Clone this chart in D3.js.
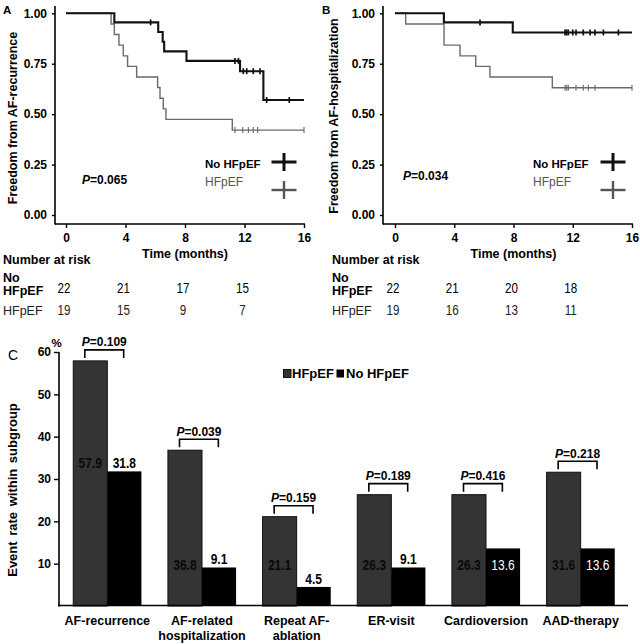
<!DOCTYPE html>
<html><head><meta charset="utf-8">
<script src="https://cdn.jsdelivr.net/npm/d3@7"></script>
<style>
html,body{margin:0;padding:0;background:#fff;}
svg{display:block;}
</style></head>
<body>
<svg id="chart" width="640" height="644"></svg>
<script>
// ---------------- DATA ----------------
const kmTimeTicks = [0, 4, 8, 12, 16];
const survTicks = [0, 0.25, 0.5, 0.75, 1];
const followEnd = 16;

// Panel A: freedom from AF-recurrence
const aNoDropT = [0, 3.25, 6.2, 6.5, 6.6, 8.1, 11.7, 13.27];
const aNoSurv  = [1, 0.955, 0.907, 0.859, 0.811, 0.764, 0.713, 0.57];
const aNoCens  = [5.69, 11.36, 11.59, 11.92, 12.15, 12.59, 13.04, 13.49, 15.01];
const aHfDropT = [0, 3.03, 3.25, 3.56, 3.85, 4.14, 4.75, 6.16, 6.32, 6.54, 6.72, 11.18];
const aHfSurv  = [1, 0.947, 0.895, 0.842, 0.789, 0.737, 0.684, 0.632, 0.579, 0.526, 0.474, 0.421];
const aHfCens  = [11.36, 11.88, 12.26, 12.59, 12.88, 16];

// Panel B: freedom from AF-hospitalization
const bNoDropT = [0, 3.3, 7.95];
const bNoSurv  = [1, 0.955, 0.905];
const bNoCens  = [5.74, 11.48, 11.59, 11.7, 12.0, 12.22, 12.71, 13.17, 13.5, 14.07, 15.08];
const bHfDropT = [0, 0.72, 3.31, 4.39, 5.45, 6.41, 10.62];
const bHfSurv  = [1, 0.947, 0.842, 0.789, 0.737, 0.684, 0.631];
const bHfCens  = [11.48, 11.59, 11.7, 12.22, 12.71, 13.05, 13.5, 16];

// Numbers at risk
const riskTimes = [0, 4, 8, 12];
const aRiskNo = [22, 21, 17, 15];
const aRiskHf = [19, 15, 9, 7];
const bRiskNo = [22, 21, 20, 18];
const bRiskHf = [19, 16, 13, 11];

const pA = "0.065";
const pB = "0.034";

// Panel C: event rates
const categories = ["AF-recurrence", "AF-related\nhospitalization", "Repeat AF-\nablation", "ER-visit", "Cardioversion", "AAD-therapy"];
const hfRates = [57.9, 36.8, 21.1, 26.3, 26.3, 31.6];
const noRates = [31.8, 9.1, 4.5, 9.1, 13.6, 13.6];
const pValues = ["0.109", "0.039", "0.159", "0.189", "0.416", "0.218"];
const rateTicks = [10, 20, 30, 40, 50, 60];
const seriesNames = ["HFpEF", "No HFpEF"];

// ---------------- DRAW ----------------
const FONT = "'Liberation Sans', Arial, Helvetica, sans-serif";
const svg = d3.select("#chart");

function txt(x, y, s, o = {}) {
  return svg.append("text").attr("x", x).attr("y", y)
    .attr("font-family", FONT)
    .attr("font-size", o.size || 12)
    .attr("font-weight", o.weight || "bold")
    .attr("fill", o.fill || "#000")
    .attr("text-anchor", o.anchor || "start")
    .text(s);
}
// condensed-looking text (horizontal squeeze)
function ntxt(x, y, s, o = {}) {
  return svg.append("text").attr("transform", `translate(${x},${y}) scale(0.8,1)`)
    .attr("font-family", FONT)
    .attr("font-size", o.size || 14)
    .attr("font-weight", o.weight || "normal")
    .attr("fill", o.fill || "#000")
    .attr("text-anchor", o.anchor || "middle")
    .text(s);
}
function pText(x, y, val, size, anchor) {
  const t = svg.append("text").attr("x", x).attr("y", y)
    .attr("font-family", FONT).attr("font-size", size).attr("font-weight", "bold")
    .attr("text-anchor", anchor || "start").attr("fill", "#000");
  t.append("tspan").attr("font-style", "italic").text("P");
  t.append("tspan").text("=" + val);
  return t;
}

const yKM = d3.scaleLinear([0, 1], [215, 13.3]);

function kmPanel(o) {
  const x = d3.scaleLinear([0, 16], o.xr);
  const g = svg.append("g");
  g.append("line").attr("x1", o.ax).attr("x2", o.ax).attr("y1", 6).attr("y2", 224.5)
    .attr("stroke", "#000").attr("stroke-width", 1.6);
  g.append("line").attr("x1", o.ax).attr("x2", x(16) + 1).attr("y1", 224).attr("y2", 224)
    .attr("stroke", "#000").attr("stroke-width", 1.6);
  const ya = g.append("g").attr("transform", `translate(${o.ax},0)`)
    .call(d3.axisLeft(yKM).tickValues(survTicks).tickFormat(d3.format(".2f")).tickSize(3).tickPadding(5));
  ya.select(".domain").remove();
  const xa = g.append("g").attr("transform", `translate(0,224)`)
    .call(d3.axisBottom(x).tickValues(kmTimeTicks).tickSize(4).tickPadding(5));
  xa.select(".domain").remove();
  [ya, xa].forEach(a => {
    a.selectAll("text").attr("font-family", FONT).attr("font-size", 12).attr("font-weight", "bold").attr("fill", "#000");
    a.selectAll("line").attr("stroke", "#000").attr("stroke-width", 1.4);
  });

  function curve(dropT, surv, cens, color, w) {
    const pts = dropT.map((t, i) => [t, surv[i]]);
    pts.push([followEnd, surv[surv.length - 1]]);
    g.append("path").attr("d", d3.line().x(d => x(d[0])).y(d => yKM(d[1])).curve(d3.curveStepAfter)(pts))
      .attr("fill", "none").attr("stroke", color).attr("stroke-width", w);
    cens.forEach(t => {
      let s = surv[0];
      dropT.forEach((dt, i) => { if (dt <= t) s = surv[i]; });
      g.append("line").attr("x1", x(t)).attr("x2", x(t)).attr("y1", yKM(s) - 3).attr("y2", yKM(s) + 3)
        .attr("stroke", color).attr("stroke-width", w * 0.8);
    });
  }
  curve(o.hfT, o.hfS, o.hfC, "#6a6a6a", 1.4);
  curve(o.noT, o.noS, o.noC, "#111", 2.1);

  txt(o.legX, 168, "No HFpEF", { size: 11.5 });
  txt(o.legX, 186, "HFpEF", { size: 12, weight: "normal", fill: "#555" });
  function cross(cx, cy, color, w) {
    g.append("line").attr("x1", cx - 12.5).attr("x2", cx + 12.5).attr("y1", cy).attr("y2", cy).attr("stroke", color).attr("stroke-width", w);
    g.append("line").attr("x1", cx).attr("x2", cx).attr("y1", cy - 9).attr("y2", cy + 9).attr("stroke", color).attr("stroke-width", w);
  }
  cross(o.crossX, 162, "#111", 3);
  cross(o.crossX, 190, "#555", 2.4);
  pText(o.pX, o.pY, o.p, 12);

  txt(o.letterX, 14, o.letter, { size: 11.5 });
  svg.append("text").attr("transform", `translate(${o.titleX},${o.titleY}) rotate(-90)`)
    .attr("text-anchor", "middle").attr("font-family", FONT).attr("font-size", 12.5).attr("font-weight", "bold")
    .text(o.title);
  txt((x(0) + x(16)) / 2, 258, "Time (months)", { size: 12.5, anchor: "middle" });

  txt(o.riskX, 264, "Number at risk", { size: 12.5 });
  txt(o.riskX, 282, "No", { size: 12.5 });
  txt(o.riskX, 295, "HFpEF", { size: 12.5 });
  txt(o.riskX, 315, "HFpEF", { size: 12.5, weight: "normal", fill: "#222" });
  riskTimes.forEach((t, i) => {
    ntxt(x(t) - 2, 292.5, o.rNo[i], { size: 14.5 });
    ntxt(x(t) - 2, 315, o.rHf[i], { size: 14.5, fill: "#222" });
  });
}

kmPanel({ xr: [66, 304], ax: 55, hfT: aHfDropT, hfS: aHfSurv, hfC: aHfCens, noT: aNoDropT, noS: aNoSurv, noC: aNoCens,
  legX: 205, crossX: 284, pX: 82, pY: 184, p: pA, letter: "A", letterX: 3, riskX: 3, titleX: 16.5, titleY: 118,
  title: "Freedom from AF-recurrence", rNo: aRiskNo, rHf: aRiskHf });
kmPanel({ xr: [395, 632], ax: 383, hfT: bHfDropT, hfS: bHfSurv, hfC: bHfCens, noT: bNoDropT, noS: bNoSurv, noC: bNoCens,
  legX: 533, crossX: 613, pX: 403, pY: 180, p: pB, letter: "B", letterX: 322, riskX: 332, titleX: 337.5, titleY: 116,
  title: "Freedom from AF-hospitalization", rNo: bRiskNo, rHf: bRiskHf });

// ---------------- Panel C ----------------
const yC = d3.scaleLinear([0, 60], [606, 352]);
const xC = d3.scaleBand(categories, [60, 628]).paddingInner(0.28).paddingOuter(0.14);
const sub = d3.scaleBand(seriesNames, [0, xC.bandwidth()]);
const gC = svg.append("g");

categories.forEach((c, i) => {
  const x0 = xC(c);
  gC.append("rect").attr("x", x0 + sub("HFpEF")).attr("y", yC(hfRates[i]))
    .attr("width", sub.bandwidth()).attr("height", yC(0) - yC(hfRates[i]))
    .attr("fill", "#343434").attr("stroke", "#111").attr("stroke-width", 1);
  gC.append("rect").attr("x", x0 + sub("No HFpEF")).attr("y", yC(noRates[i]))
    .attr("width", sub.bandwidth()).attr("height", yC(0) - yC(noRates[i]))
    .attr("fill", "#000");
  const noInside = noRates[i] > 12 && noRates[i] < 30;
  const noY = noInside ? yC(8.6) : yC(noRates[i]) - 3;
  const hfY = noRates[i] > 20 ? yC(noRates[i]) - 3 : yC(8.6);
  ntxt(x0 + sub("HFpEF") + sub.bandwidth() / 2, hfY, hfRates[i].toFixed(1),
    { size: 15, weight: "bold", fill: "#0a0a0a" });
  ntxt(x0 + sub("No HFpEF") + sub.bandwidth() / 2, noY, noRates[i].toFixed(1),
    { size: 15, weight: noInside ? "normal" : "bold", fill: noInside ? "#fff" : "#000" });
  const bl = x0 + xC.bandwidth() * 0.17, br = x0 + xC.bandwidth() * 0.74;
  const top = yC(hfRates[i]);
  gC.append("path").attr("d", `M${bl},${top - 3}V${top - 11}H${br}V${top - 3}`)
    .attr("fill", "none").attr("stroke", "#000").attr("stroke-width", 1.6);
  pText((bl + br) / 2, top - 14.5, pValues[i], 12, "middle");
  const lines = c.split("\n");
  const t = txt(x0 + xC.bandwidth() / 2, 625, "", { size: 12.5, anchor: "middle" });
  lines.forEach((l, k) => t.append("tspan").attr("x", x0 + xC.bandwidth() / 2).attr("y", 625 + k * 15).text(l));
});

gC.append("line").attr("x1", 59).attr("x2", 59).attr("y1", yC(60)).attr("y2", yC(0) + 0.5).attr("stroke", "#000").attr("stroke-width", 1.6);
gC.append("line").attr("x1", 58).attr("x2", 628).attr("y1", 605.5).attr("y2", 605.5).attr("stroke", "#000").attr("stroke-width", 1.6);
const yaC = gC.append("g").attr("transform", "translate(59,0)")
  .call(d3.axisLeft(yC).tickValues(rateTicks).tickSize(5).tickPadding(3));
yaC.select(".domain").remove();
yaC.selectAll("text").attr("font-family", FONT).attr("font-size", 12).attr("font-weight", "bold").attr("fill", "#000");
yaC.selectAll("line").attr("stroke", "#000").attr("stroke-width", 1.4);

txt(51.5, 347, "%", { size: 11.5 });
txt(8, 360, "C", { size: 14, weight: "normal" });
svg.append("text").attr("transform", "translate(17,490) rotate(-90)")
  .attr("text-anchor", "middle").attr("font-family", FONT).attr("font-size", 13).attr("font-weight", "bold")
  .attr("word-spacing", 2).text("Event rate within subgroup");

gC.append("rect").attr("x", 283.5).attr("y", 369.5).attr("width", 7.5).attr("height", 8).attr("fill", "#343434").attr("stroke", "#111");
txt(292, 378, "HFpEF", { size: 13 });
gC.append("rect").attr("x", 336.5).attr("y", 369.5).attr("width", 7.5).attr("height", 8).attr("fill", "#000");
txt(346, 378, "No HFpEF", { size: 13 });
</script>
</body></html>
